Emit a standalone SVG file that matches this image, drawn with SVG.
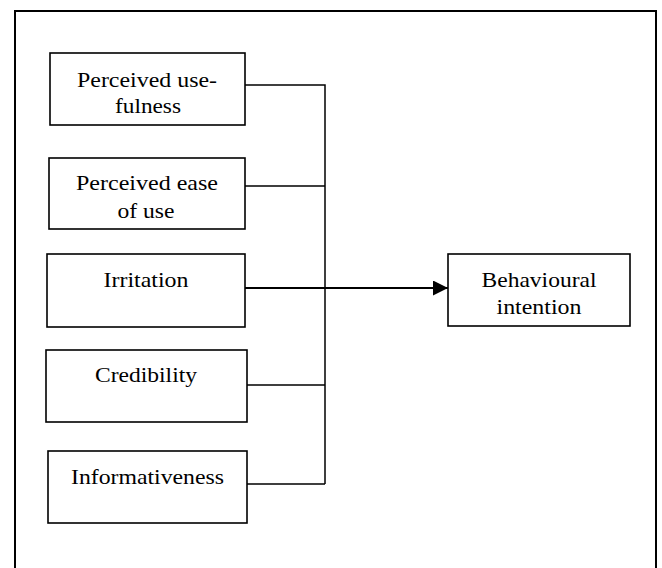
<svg xmlns="http://www.w3.org/2000/svg" width="662" height="568" viewBox="0 0 662 568">
<defs>
<style>
.box{fill:#fff;stroke:#000;stroke-width:1.6}
.t{font-size:22px;fill:#000;text-anchor:middle}
.c{fill:none;stroke:#000;stroke-width:1.5}
.a{fill:none;stroke:#000;stroke-width:2.2}
</style>
<marker id="arr" markerWidth="15" markerHeight="15" refX="15" refY="7.5" orient="auto" markerUnits="userSpaceOnUse">
<path d="M0,0 L15,7.5 L0,15 Z" fill="#000"/>
</marker>
</defs>
<rect width="662" height="568" fill="#fff"/>
<path d="M15,575 L15,11 L656,11 L656,575" fill="none" stroke="#000" stroke-width="2"/>
<g id="connectors">
<path class="c" d="M245,85 H325 V484 M245,186 H325 M247,385 H325 M247,484 H325"/>
<path class="a" d="M245,288 H448" marker-end="url(#arr)"/>
</g>
<g font-family="Liberation Serif, Times New Roman, serif">
<g id="n1">
<rect class="box" x="50" y="53" width="195" height="72"/>
<text class="t" x="147" y="87" textLength="140" lengthAdjust="spacingAndGlyphs">Perceived use-</text>
<text class="t" x="148" y="113" textLength="66" lengthAdjust="spacingAndGlyphs">fulness</text>
</g>
<g id="n2">
<rect class="box" x="49" y="158" width="196" height="71"/>
<text class="t" x="147" y="190" textLength="142" lengthAdjust="spacingAndGlyphs">Perceived ease</text>
<text class="t" x="146" y="218" textLength="57" lengthAdjust="spacingAndGlyphs">of use</text>
</g>
<g id="n3">
<rect class="box" x="47" y="254" width="198" height="73"/>
<text class="t" x="146" y="287" textLength="85" lengthAdjust="spacingAndGlyphs">Irritation</text>
</g>
<g id="n4">
<rect class="box" x="46" y="350" width="201" height="72"/>
<text class="t" x="146" y="382" textLength="102" lengthAdjust="spacingAndGlyphs">Credibility</text>
</g>
<g id="n5">
<rect class="box" x="48" y="451" width="199" height="72"/>
<text class="t" x="147.5" y="484" textLength="153" lengthAdjust="spacingAndGlyphs">Informativeness</text>
</g>
<g id="n6">
<rect class="box" x="448" y="254" width="182" height="72"/>
<text class="t" x="539" y="287" textLength="115" lengthAdjust="spacingAndGlyphs">Behavioural</text>
<text class="t" x="539" y="314" textLength="85" lengthAdjust="spacingAndGlyphs">intention</text>
</g>
</g>
</svg>
